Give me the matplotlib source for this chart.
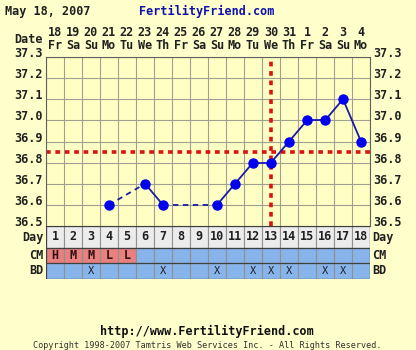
import matplotlib.pyplot as plt
import numpy as np

days = list(range(1, 19))
dates = ["18", "19", "20", "21", "22", "23", "24", "25", "26",
         "27", "28", "29", "30", "31", "1", "2", "3", "4"]
weekdays = ["Fr", "Sa", "Su", "Mo", "Tu", "We", "Th", "Fr", "Sa",
            "Su", "Mo", "Tu", "We", "Th", "Fr", "Sa", "Su", "Mo"]
temp_days = [4, 6, 7, 10, 11, 12, 13, 14, 15, 16, 17, 18]
temps = [36.6, 36.7, 36.6, 36.6, 36.7, 36.8, 36.8, 36.9, 37.0, 37.0, 37.1, 36.9]
cm = ["H", "M", "M", "L", "L"] + [""] * 13
bd_days = [3, 7, 10, 12, 13, 14, 16, 17]
coverline = 36.85
ovulation_day = 13
yticks = [36.5, 36.6, 36.7, 36.8, 36.9, 37.0, 37.1, 37.2, 37.3]

BG = "#ffffcc"
PLOT_BG = "#ffffc4"
GRID = "#a0a090"
BLUE = "#0000ee"
RED = "#dd1111"
CELL_BLUE = "#88b4ec"
CELL_PINK = "#e88080"
DAY_GRAY = "#ececec"
TXT = "#202020"
FONT = "DejaVu Sans Mono"

W, H = 416, 350
fig = plt.figure(figsize=(W / 100, H / 100), dpi=100, facecolor=BG)


def box(x0, y0, x1, y1):
    return [x0 / W, 1 - y1 / H, (x1 - x0) / W, (y1 - y0) / H]


# MAIN TEMPERATURE CHART
ax = fig.add_axes(box(46, 57, 370, 226))
ax.set_facecolor(PLOT_BG)
ax.set_xlim(0.5, 18.5)
ax.set_ylim(36.5, 37.3)
ax.set_xticks(np.arange(0.5, 19, 1))
ax.set_yticks(yticks)
ax.grid(True, color=GRID, linewidth=0.8)
ax.tick_params(length=0, labelbottom=False, labelleft=False)
for s in ax.spines.values():
    s.set_color("#606060")
    s.set_linewidth(0.8)

# segments: solid between consecutive days, dashed across gaps
for i in range(len(temp_days) - 1):
    x = temp_days[i:i + 2]
    y = temps[i:i + 2]
    style = "-" if x[1] - x[0] == 1 else (0, (3, 2.5))
    ax.plot(x, y, color="#1a1aa8", linestyle=style, linewidth=1.3, zorder=3)
ax.plot(temp_days, temps, "o", color=BLUE, markersize=6.5, zorder=4)

ax.axhline(coverline, color=RED, linestyle=(0, (1.3, 1.3)), linewidth=2.6, zorder=2)
ax.axvline(ovulation_day, color=RED, linestyle=(0, (1.3, 1.3)), linewidth=2.6, zorder=2)

for t in yticks:
    ax.text(0.3, t + 0.016, f"{t:.1f}", ha="right", va="center", fontsize=8.5,
            fontweight="bold", family=FONT, color=TXT)
    ax.text(18.7, t + 0.016, f"{t:.1f}", ha="left", va="center", fontsize=8.5,
            fontweight="bold", family=FONT, color=TXT)

# date header
for d, n, w in zip(days, dates, weekdays):
    ax.text(d, 37.3 + 0.116, n, ha="center", va="center", fontsize=8.5,
            fontweight="bold", family=FONT, color=TXT)
    ax.text(d, 37.3 + 0.054, w, ha="center", va="center", fontsize=8.5,
            fontweight="bold", family=FONT, color=TXT)
ax.text(0.3, 37.3 + 0.085, "Date", ha="right", va="center", fontsize=8.5,
        fontweight="bold", family=FONT, color=TXT)

# TABLE BELOW: Day / CM / BD rows
tab = fig.add_axes(box(46, 226, 370, 279))
tab.set_xlim(0.5, 18.5)
tab.set_ylim(0, 53)
tab.axis("off")
rows = {"Day": (31, 22), "CM": (16, 15), "BD": (0, 16)}
tab.bar(days, rows["Day"][1], bottom=rows["Day"][0], width=1, color=DAY_GRAY,
        edgecolor="#909090", linewidth=0.8)
tab.bar(days, rows["CM"][1], bottom=rows["CM"][0], width=1,
        color=[CELL_PINK if c else CELL_BLUE for c in cm], edgecolor="#909090", linewidth=0.8)
tab.bar(days, rows["BD"][1], bottom=rows["BD"][0], width=1, color=CELL_BLUE,
        edgecolor="#909090", linewidth=0.8)
for yy in (16, 31):
    tab.plot([0.5, 18.5], [yy, yy], color="#404040", linewidth=0.9)
tab.plot([0.5, 18.5, 18.5, 0.5, 0.5], [0, 0, 53, 53, 0], color="#404040", linewidth=0.9)
for d in days:
    tab.text(d, 42, str(d), ha="center", va="center", fontsize=8.5,
             fontweight="bold", family=FONT, color=TXT)
for d, c in zip(days, cm):
    if c:
        tab.text(d, 23.5, c, ha="center", va="center", fontsize=8.5,
                 fontweight="bold", family=FONT, color="#301010")
for d in bd_days:
    tab.text(d, 8, "X", ha="center", va="center", fontsize=7.5,
             family=FONT, color=TXT)
for lbl, (b, h) in rows.items():
    tab.text(0.38, b + h / 2, lbl, ha="right", va="center", fontsize=8.5,
             fontweight="bold", family=FONT, color=TXT)
    tab.text(18.62, b + h / 2, lbl, ha="left", va="center", fontsize=8.5,
             fontweight="bold", family=FONT, color=TXT)

# TITLES AND FOOTER
fig.text(5 / W, 1 - 11 / H, "May 18, 2007", ha="left", va="center", fontsize=8.5,
         fontweight="bold", family=FONT, color=TXT)
fig.text(207 / W, 1 - 11 / H, "FertilityFriend.com", ha="center", va="center",
         fontsize=8.5, fontweight="bold", family=FONT, color="#1010b0")
fig.text(207 / W, 1 - 331 / H, "http://www.FertilityFriend.com", ha="center",
         va="center", fontsize=8.5, fontweight="bold", family=FONT, color="#101010")
fig.text(207 / W, 1 - 345 / H,
         "Copyright 1998-2007 Tamtris Web Services Inc. - All Rights Reserved.",
         ha="center", va="center", fontsize=6.1, family=FONT, color="#303030")

fig.savefig("out.png", dpi=100, facecolor=BG)
